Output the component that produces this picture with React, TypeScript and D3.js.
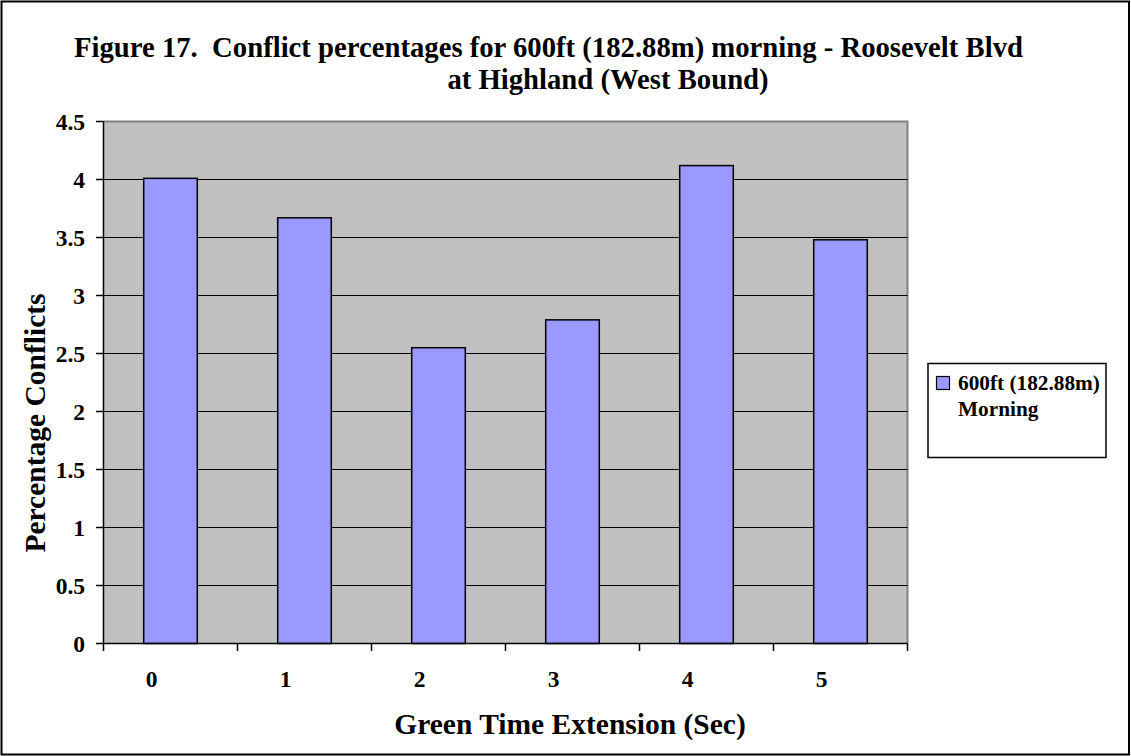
import React from "react";
import * as d3 from "d3";

// Green time extension (sec) and conflict percentages
const categories: string[] = ["0", "1", "2", "3", "4", "5"];
const conflictValues: number[] = [4.01, 3.67, 2.55, 2.79, 4.12, 3.48];
const yTicks: number[] = [0, 0.5, 1, 1.5, 2, 2.5, 3, 3.5, 4, 4.5];
const seriesName: string[] = ["600ft (182.88m)", "Morning"];
const titleLines: string[] = [
  "Figure 17.  Conflict percentages for 600ft (182.88m) morning - Roosevelt Blvd",
  "at Highland (West Bound)",
];

const W = 1131;
const H = 756;
const plot = { left: 103.5, right: 907.5, top: 121.5, bottom: 643.5 };
const FONT = "'Liberation Serif', 'Times New Roman', serif";

export default function App() {
  const x = d3
    .scaleBand<string>()
    .domain(categories)
    .range([plot.left, plot.right])
    .paddingInner(0.6)
    .paddingOuter(0.3);
  const step = x.step();
  const y = d3.scaleLinear().domain([0, 4.5]).range([plot.bottom, plot.top]);

  return (
    <svg
      width={W}
      height={H}
      style={{ position: "absolute", left: 0, top: 0, background: "#fff" }}
      fontFamily={FONT}
      fontWeight="bold"
    >
      {/* outer frame */}
      <rect x={1.5} y={1.5} width={W - 3.5} height={H - 3} fill="#fff" stroke="#000" strokeWidth={2} />

      {/* title */}
      <text x={74} y={57} fontSize={28.7} fill="#000" style={{ whiteSpace: "pre" }}>
        {titleLines[0]}
      </text>
      <text x={608} y={89} fontSize={28.7} fill="#000" textAnchor="middle">
        {titleLines[1]}
      </text>

      {/* plot area */}
      <rect
        x={plot.left}
        y={plot.top}
        width={plot.right - plot.left}
        height={plot.bottom - plot.top}
        fill="#C0C0C0"
      />
      {/* gray top/right border */}
      <path
        d={`M${plot.left},${plot.top}H${plot.right}V${plot.bottom}`}
        fill="none"
        stroke="#808080"
        strokeWidth={2}
      />

      {/* gridlines */}
      {yTicks.filter((t) => t > 0 && t < 4.5).map((t) => (
        <line key={t} x1={plot.left} x2={plot.right} y1={y(t)} y2={y(t)} stroke="#000" strokeWidth={1.2} />
      ))}

      {/* bars */}
      {categories.map((c, i) => (
        <rect
          key={c}
          x={x(c)!}
          y={y(conflictValues[i])}
          width={x.bandwidth()}
          height={y(0) - y(conflictValues[i])}
          fill="#9999FF"
          stroke="#000"
          strokeWidth={1.5}
        />
      ))}

      {/* y axis */}
      <line x1={plot.left} x2={plot.left} y1={plot.top} y2={plot.bottom} stroke="#000" strokeWidth={1.5} />
      {yTicks.map((t) => (
        <g key={t}>
          <line x1={96} x2={plot.left} y1={y(t)} y2={y(t)} stroke="#000" strokeWidth={1.5} />
          <text x={85} y={y(t)} dy="0.35em" textAnchor="end" fontSize={23.5} fill="#000">
            {t}
          </text>
        </g>
      ))}

      {/* x axis */}
      <line x1={plot.left} x2={plot.right} y1={plot.bottom} y2={plot.bottom} stroke="#000" strokeWidth={1.5} />
      {d3.range(categories.length + 1).map((i) => (
        <line
          key={i}
          x1={plot.left + i * step}
          x2={plot.left + i * step}
          y1={plot.bottom}
          y2={651}
          stroke="#000"
          strokeWidth={1.5}
        />
      ))}
      {categories.map((c) => (
        <text
          key={c}
          x={x(c)! + x.bandwidth() / 2 - 19}
          y={687}
          textAnchor="middle"
          fontSize={23.5}
          fill="#000"
        >
          {c}
        </text>
      ))}

      {/* axis titles */}
      <text x={570} y={734} textAnchor="middle" fontSize={29.5} fill="#000">
        Green Time Extension (Sec)
      </text>
      <text
        transform={`translate(45, 423) rotate(-90)`}
        textAnchor="middle"
        fontSize={29.5}
        fill="#000"
      >
        Percentage Conflicts
      </text>

      {/* legend */}
      <rect x={928} y={363.5} width={178} height={94} fill="#fff" stroke="#000" strokeWidth={1.5} />
      <rect x={936.5} y={376.5} width={13} height={13} fill="#9999FF" stroke="#000" strokeWidth={1.2} />
      <text x={958} y={390} fontSize={21.3} fill="#000">{seriesName[0]}</text>
      <text x={958} y={416} fontSize={21.3} fill="#000">{seriesName[1]}</text>
    </svg>
  );
}
